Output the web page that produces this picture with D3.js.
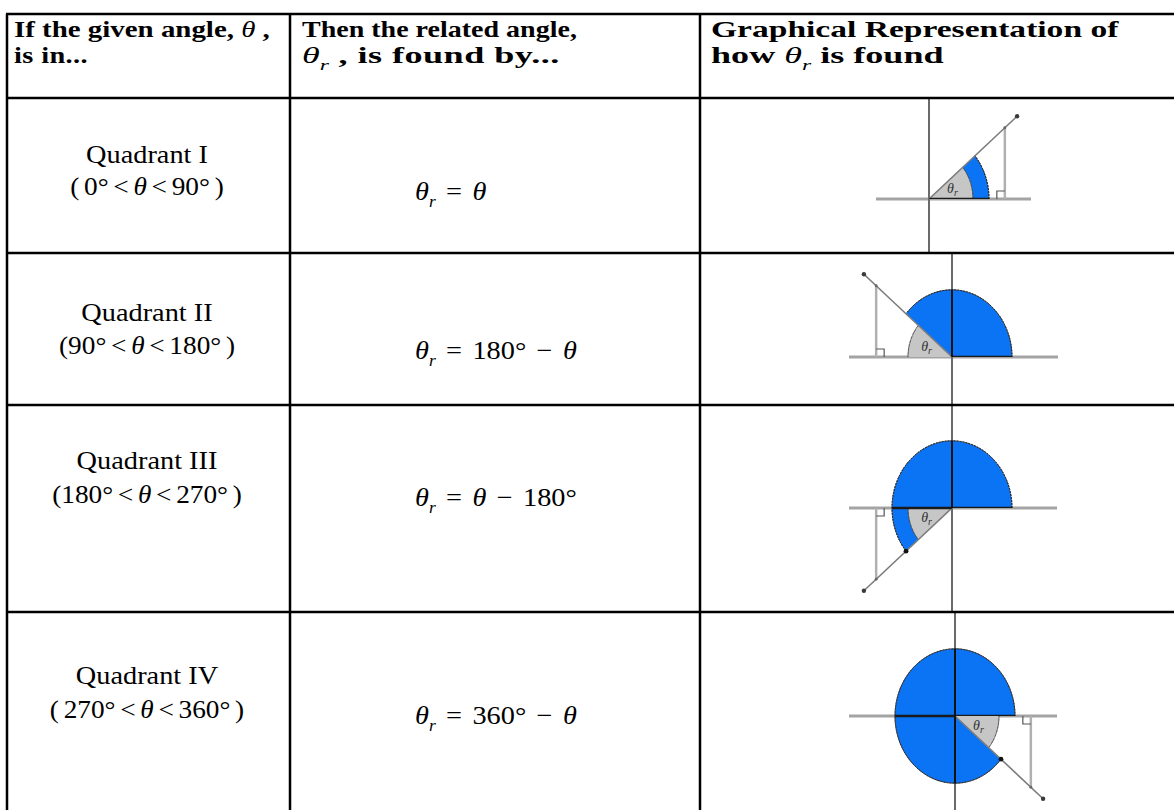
<!DOCTYPE html>
<html lang="en">
<head>
<meta charset="utf-8">
<title>Related angle by quadrant</title>
<script src="https://d3js.org/d3.v7.min.js"></script>
<style>
  body { margin: 0; background: #fff; }
  svg { display: block; font-family: "Liberation Serif", "Times New Roman", serif; }
</style>
</head>
<body>
<script>

    // header cells: each line is a list of [text, style] runs
    var headerCells = [
        [[["If the given angle, ", "b"], ["θ", "i"], [" ,", "b"]], [["is in...", "b"]]],
        [[["Then the related angle,", "b"]], [["θ", "i"], ["r", "sub"], [" , is found by...", "b"]]],
        [[["Graphical Representation of", "b"]], [["how ", "b"], ["θ", "i"], ["r", "sub"], ["  is found", "b"]]]
    ];

    var quadrants = ["Quadrant I", "Quadrant II", "Quadrant III", "Quadrant IV"];
    var rangeLabels = ["( 0° < θ < 90° )", "(90° < θ < 180° )", "(180° < θ < 270° )", "( 270° < θ < 360° )"];
    // x-axis direction the related angle is measured from (degrees)
    var refAngles = [0, 180, 180, 360];
    // terminal arm drawn in each sketch (degrees)
    var armAngles = [40, 140, 220, 320];

    // ---- layout ----
    var W = 1174, H = 810;
    var colX = [7, 290, 700, 1190];
    var rowY = [14, 98, 253, 405, 612, 830];
    var fontSize = 26, headerSize = 23;
    var textScale = 1.09;           // the scanned glyphs are drawn wide
    var headerX = [14, 302, 711];
    var headerBase = [37, 63];
    var headerWidth = [[256, 74], [275, 258], [408, 233]];
    var nameX = 147, eqX = 415;
    // baselines relative to the row top: name, range, formula
    var rowText = [[65, 97, 102], [68, 101, 106], [64, 98, 101], [72, 106, 112]];
    // sketch origin and horizontal axis extent
    var sketch = [
        {ox: 929, oy: 199, h0: -53, h1: 102},
        {ox: 952, oy: 357, h0: -103, h1: 106},
        {ox: 952, oy: 508, h0: -103, h1: 105},
        {ox: 955, oy: 716, h0: -106, h1: 102}
    ];
    var R = 60, rGray = 44, ky = 1.12, armLen = 115, dropLen = 99;

    var svg = d3.select("body").append("svg")
        .attr("width", W)
        .attr("height", H);

    function addRuns(text, runs, subSize) {
        var shifted = false;
        runs.forEach(function(run) {
            var t = text.append("tspan").text(run[0]);
            if (run[1] === "b") t.attr("font-weight", "bold");
            if (run[1] === "i") t.attr("font-style", "italic");
            if (run[0].indexOf("...") >= 0) t.attr("letter-spacing", 0.3);
            if (run[1] === "sub") {
                t.attr("font-style", "italic").attr("font-size", subSize).attr("dy", 7);
                shifted = true;
            } else if (shifted) {
                t.attr("dy", -7);
                shifted = false;
            }
        });
    }

    // draw a line of text; if width is given the glyphs are stretched to fit it
    function drawText(x, y, runs, opt) {
        opt = opt || {};
        var t = svg.append("text")
            .attr("font-size", opt.size || fontSize)
            .attr("fill", "#000")
            .attr("text-anchor", opt.anchor || "start")
            .attr("word-spacing", opt.spacing || 0);
        addRuns(t, runs, opt.size ? 15 : 16);
        var sx = opt.scale || textScale;
        if (opt.width) sx = opt.width / t.node().getBBox().width;
        t.attr("transform", "translate(" + x + "," + y + ") scale(" + sx + ",1)");
        return t;
    }

    function mathRuns(label) {
        var runs = [];
        label.split("θ").forEach(function(part, k) {
            if (k > 0) runs.push(["θ", "i"]);
            if (part) runs.push([part, "n"]);
        });
        return runs;
    }

    // ---- sketches ----
    var toArc = d3.scaleLinear().domain([0, 360]).range([Math.PI / 2, Math.PI / 2 - 2 * Math.PI]);
    var rad = d3.scaleLinear().domain([0, 180]).range([0, Math.PI]);

    function pt(deg, len) {
        return [len * Math.cos(rad(deg)), -len * Math.sin(rad(deg)) * ky];
    }

    armAngles.forEach(function(theta, i) {
        var s = sketch[i];
        var ref = refAngles[i];
        var g = svg.append("g").attr("transform", "translate(" + s.ox + "," + s.oy + ")");
        var top = rowY[i + 1] - s.oy, bottom = rowY[i + 2] - s.oy;

        var bluePie = d3.arc().innerRadius(0).outerRadius(R)
            .startAngle(toArc(0)).endAngle(toArc(theta));
        var blueEdge = d3.arc().innerRadius(R).outerRadius(R)
            .startAngle(toArc(0)).endAngle(toArc(theta));
        var a0 = Math.min(theta, ref), a1 = Math.max(theta, ref);
        var grayPie = d3.arc().innerRadius(0).outerRadius(rGray)
            .startAngle(toArc(a0)).endAngle(toArc(a1));
        var grayEdge = d3.arc().innerRadius(rGray).outerRadius(rGray)
            .startAngle(toArc(a0)).endAngle(toArc(a1));

        var arm = pt(theta, armLen), drop = pt(theta, dropLen);

        // axes
        g.append("line").attr("x1", s.h0).attr("x2", s.h1).attr("y1", 0).attr("y2", 0)
            .attr("stroke", "#a4a4a4").attr("stroke-width", 3);
        g.append("line").attr("x1", 0).attr("x2", 0).attr("y1", top).attr("y2", bottom)
            .attr("stroke", "#6a6a6a").attr("stroke-width", 2);

        // drop to the x-axis
        g.append("line").attr("x1", drop[0]).attr("x2", drop[0]).attr("y1", drop[1]).attr("y2", 0)
            .attr("stroke", "#b0b0b0").attr("stroke-width", 2.5);

        var sg = g.append("g").attr("transform", "scale(1," + ky + ")");
        sg.append("path").attr("d", bluePie()).attr("fill", "#0b74f4");
        sg.append("path").attr("d", blueEdge()).attr("fill", "none")
            .attr("stroke", "#2a2a2a").attr("stroke-width", 1).attr("stroke-dasharray", "2,1")
            .attr("vector-effect", "non-scaling-stroke");
        sg.append("path").attr("d", grayPie()).attr("fill", "#c6c6c6");
        sg.append("path").attr("d", grayEdge()).attr("fill", "none")
            .attr("stroke", "#4a4a4a").attr("stroke-width", 1).attr("stroke-dasharray", "2,2")
            .attr("vector-effect", "non-scaling-stroke");

        // axes look dark where they cross the blue
        var clipId = "clip" + i;
        svg.append("clipPath").attr("id", clipId)
            .append("path").attr("d", bluePie())
            .attr("transform", "translate(" + s.ox + "," + s.oy + ") scale(1," + ky + ")");
        var dark = svg.append("g").attr("clip-path", "url(#" + clipId + ")")
            .append("g").attr("transform", "translate(" + s.ox + "," + s.oy + ")");
        dark.append("line").attr("x1", s.h0).attr("x2", s.h1).attr("y1", 0).attr("y2", 0)
            .attr("stroke", "#1a1a1a").attr("stroke-width", 2.5);
        dark.append("line").attr("x1", 0).attr("x2", 0).attr("y1", top).attr("y2", bottom)
            .attr("stroke", "#111").attr("stroke-width", 2);

        // terminal arm
        g.append("line").attr("x1", 0).attr("y1", 0).attr("x2", arm[0]).attr("y2", arm[1])
            .attr("stroke", "#7c7c7c").attr("stroke-width", 1.6);
        g.append("circle").attr("cx", arm[0]).attr("cy", arm[1]).attr("r", 2.2).attr("fill", "#3a3a3a");
        g.append("circle").attr("cx", drop[0]).attr("cy", drop[1]).attr("r", 1.4).attr("fill", "#666");
        // arrowhead of the blue arc only shows once it is past the negative x-axis
        if (theta > 180) {
            var tip = pt(theta, R);
            g.append("circle").attr("cx", tip[0]).attr("cy", tip[1]).attr("r", 2.4).attr("fill", "#111");
        }

        // right-angle mark at the foot of the drop, toward the origin
        var sx = drop[0] > 0 ? -1 : 1, sy = drop[1] < 0 ? -1 : 1, m = 8;
        g.append("path")
            .attr("d", "M" + (drop[0] + sx * m) + ",0V" + (sy * m) + "H" + drop[0])
            .attr("fill", "none").attr("stroke", "#555").attr("stroke-width", 1.2);

        // theta_r label inside the gray wedge
        var lp = pt((a0 + a1) / 2, 26);
        var lab = g.append("text")
            .attr("x", lp[0] - 1).attr("y", lp[1] + 4)
            .attr("text-anchor", "middle")
            .attr("font-size", 14).attr("fill", "#333");
        lab.append("tspan").attr("font-style", "italic").text("θ");
        lab.append("tspan").attr("font-style", "italic").attr("font-size", 10).attr("dy", 3).text("r");
    });

    // ---- table grid ----
    rowY.forEach(function(y) {
        svg.append("line").attr("x1", colX[0] - 1).attr("x2", colX[3]).attr("y1", y).attr("y2", y)
            .attr("stroke", "#000").attr("stroke-width", 2.5);
    });
    colX.forEach(function(x) {
        svg.append("line").attr("x1", x).attr("x2", x).attr("y1", rowY[0]).attr("y2", rowY[5])
            .attr("stroke", "#000").attr("stroke-width", 2.5);
    });

    // ---- header ----
    headerCells.forEach(function(lines, c) {
        lines.forEach(function(runs, l) {
            drawText(headerX[c], headerBase[l], runs, {size: headerSize, width: headerWidth[c][l]});
        });
    });

    // ---- rows ----
    quadrants.forEach(function(name, i) {
        var y0 = rowY[i + 1], tl = rowText[i];
        drawText(nameX, y0 + tl[0], [[name, "n"]], {anchor: "middle"});
        drawText(nameX, y0 + tl[1], mathRuns(rangeLabels[i]), {anchor: "middle", spacing: -2, scale: 1.05});

        var ref = refAngles[i], eq;
        if (ref === 0) eq = [["θ", "i"]];
        else if (armAngles[i] < ref) eq = [[ref + "° − ", "n"], ["θ", "i"]];
        else eq = [["θ", "i"], [" − " + ref + "°", "n"]];
        drawText(eqX, y0 + tl[2], [["θ", "i"], ["r", "sub"], ["  = ", "n"]].concat(eq), {spacing: 3});
    });

</script>
</body>
</html>
